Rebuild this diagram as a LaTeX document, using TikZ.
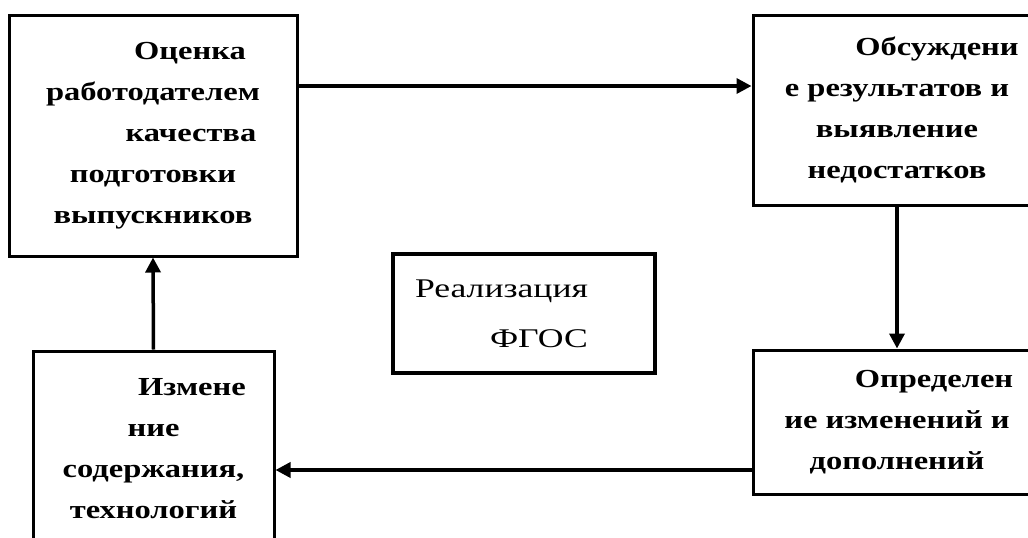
\documentclass[tikz,border=0pt]{standalone}
\usepackage{fontspec}
\setmainfont{Liberation Serif}
\newfontfamily\stepfont[FakeStretch=1.25]{Liberation Serif}
\newfontfamily\centerfont[FakeStretch=1.32]{Liberation Serif}
\usetikzlibrary{arrows.meta}
\tikzset{
    step-box/.style = {draw=black, line width=3pt, rectangle, inner sep=0pt, inner xsep=10pt, align=flush center, font=\stepfont\fontsize{26}{41}\selectfont\bfseries},
    center-box/.style = {draw=black, line width=4pt, rectangle, inner sep=0pt, inner xsep=22pt, align=flush left, font=\centerfont\fontsize{27}{50}\selectfont},
    flow-arrow/.style = {line width=3.5pt, -{Triangle[length=15pt,width=15pt]}},
}

\begin{document}
\begin{tikzpicture}[x=1pt,y=-1pt]
\useasboundingbox (0,0) rectangle (1028,538);
\node[step-box, text width=268pt, minimum height=241pt] (appraisal) at (153,135.5)
    {\hspace*{74pt}Оценка\\работодателем\\\hspace*{76pt}качества\\подготовки\\выпускников};
\node[step-box, text width=268pt, minimum height=190pt] (discussion) at (897,110)
    {\hspace*{80pt}Обсуждени\\е результатов и\\выявление\\недостатков};
\node[step-box, text width=268pt, minimum height=144pt] (changes) at (897,422)
    {\hspace*{74pt}Определен\\ие изменений и\\дополнений};
\node[step-box, text width=221pt, minimum height=196pt] (content) at (153.5,449)
    {\hspace*{77pt}Измене\\ние\\содержания,\\технологий};
\node[center-box, text width=218pt, minimum height=119pt] (fgos) at (524,313.5)
    {Реализация\\\hspace*{75pt}ФГОС};

\draw[flow-arrow] ([yshift=49.5pt]appraisal.east) -- ([yshift=49.5pt]appraisal.east -| discussion.west);
\draw[flow-arrow] (discussion.south) -- (changes.north);
\draw[flow-arrow] ([yshift=-48pt]changes.west) -- ([yshift=-48pt]changes.west -| content.east);
\draw[flow-arrow] (content.north) -- (appraisal.south);
\end{tikzpicture}
\end{document}
